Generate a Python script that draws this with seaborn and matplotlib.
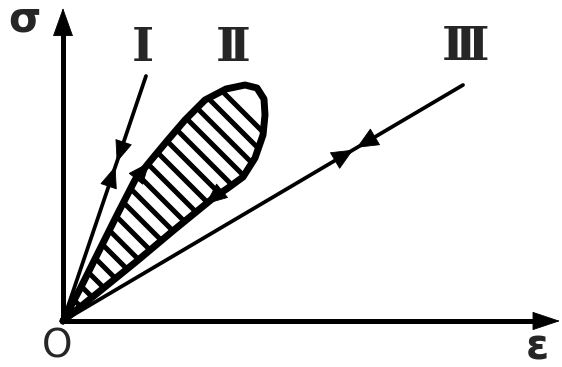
import numpy as np
import matplotlib
matplotlib.use("Agg")
import matplotlib.pyplot as plt
import seaborn as sns
from matplotlib.patches import Polygon

# Stress-strain paths (schematic units)
eps_I = [0, 83]
sig_I = [0, 245]

eps_III = [0, 400]
sig_III = [0, 236]

# Hysteresis loop II: up the left branch, round the tip, back down to the origin
eps_II = [0, 18, 36, 54, 72, 89, 104, 122, 142, 163, 182, 194, 201, 202, 200,
          192, 180, 165, 149, 111, 74, 37, 0]
sig_II = [0, 34, 70, 106, 141, 162, 180, 201, 221, 232, 236, 233, 222, 206, 186,
          163, 144, 133, 122, 91, 60, 30, 0]

eps_axis_end = 497
sig_axis_end = 313

curve_labels = ["Ⅰ", "Ⅱ", "Ⅲ"]

sns.set_theme(style="white")
plt.rcParams["font.family"] = ["DejaVu Sans"]

fig = plt.figure(figsize=(5.62, 3.67), dpi=100)
ax = fig.add_axes([0, 0, 1, 1])
ax.set_xlim(-63, 499)
ax.set_ylim(-46, 321)
ax.set_axis_off()

INK = "black"


def point_along(xs, ys, frac):
    """Point at a fraction of a polyline's length, plus the local unit direction."""
    p = np.column_stack([xs, ys]).astype(float)
    seg = np.diff(p, axis=0)
    seg_len = np.hypot(seg[:, 0], seg[:, 1])
    cum = np.concatenate([[0.0], np.cumsum(seg_len)])
    s = frac * cum[-1]
    i = int(min(np.searchsorted(cum, s, side="right") - 1, len(seg_len) - 1))
    t = (s - cum[i]) / seg_len[i]
    return p[i] + t * seg[i], seg[i] / seg_len[i]


def head(tip, base, hl=1.45, hw=0.55):
    ax.annotate("", xy=tuple(tip), xytext=tuple(base),
                arrowprops=dict(arrowstyle=f"-|>,head_length={hl},head_width={hw}",
                                color=INK, lw=0.6, shrinkA=0, shrinkB=0,
                                mutation_scale=10), zorder=6)


# Coordinate axes with arrowheads
sns.lineplot(x=[0, 0], y=[0, sig_axis_end - 20], ax=ax, color=INK, lw=3.6,
             sort=False, estimator=None)
sns.lineplot(x=[0, eps_axis_end - 20], y=[0, 0], ax=ax, color=INK, lw=3.6,
             sort=False, estimator=None)
head((0, sig_axis_end), (0, sig_axis_end - 27), hl=1.9, hw=0.68)
head((eps_axis_end, 0), (eps_axis_end - 26, 0), hl=1.85, hw=0.62)

# Straight paths I and III
sns.lineplot(x=eps_I, y=sig_I, ax=ax, color=INK, lw=2.7, sort=False, estimator=None)
sns.lineplot(x=eps_III, y=sig_III, ax=ax, color=INK, lw=2.7, sort=False, estimator=None)

# Loop outline
sns.lineplot(x=eps_II, y=sig_II, ax=ax, color=INK, lw=5.0, sort=False,
             estimator=None, zorder=5)

# Hatching inside the loop
clip = Polygon(np.column_stack([eps_II, sig_II]), closed=True,
               transform=ax.transData, facecolor="none", edgecolor="none")
ax.add_patch(clip)
hatch_step = 21
for c in np.arange(389, 0, -hatch_step):
    t = np.array([-60.0, 320.0])
    ln, = ax.plot(c - t, t, color=INK, lw=3.6, solid_capstyle="butt", zorder=3)
    ln.set_clip_path(clip)

# Loading / unloading arrowheads on I and III (tips facing each other)
for xs, ys, frac, size, hw in [(eps_I, sig_I, 0.64, 20, 0.58),
                               (eps_III, sig_III, 0.73, 22, 0.65)]:
    m, d = point_along(xs, ys, frac)
    head(m - d * 2, m - d * size, hw=hw)
    head(m + d * 2, m + d * size, hw=hw)

# Arrowheads along the loop
for frac in (0.28, 0.715):
    tip, d = point_along(eps_II, sig_II, frac)
    head(tip, tip - d * 20, hl=1.45, hw=0.62)

# Labels
ax.text(-39, 301, "σ", fontsize=30, fontweight="bold", ha="center", va="center")
ax.text(-6, -26, "O", fontsize=28, ha="center", va="center")
ax.text(474, -38, "ε", fontsize=30, fontweight="bold", ha="center", va="baseline")
for lbl, (x, y) in zip(curve_labels, [(80, 273), (170, 273), (402, 274)]):
    ax.text(x, y, lbl, fontsize=34, fontweight="bold", ha="center", va="center",
            family=["DejaVu Serif", "DejaVu Sans"])

fig.savefig("out.png", dpi=100, facecolor="white")
